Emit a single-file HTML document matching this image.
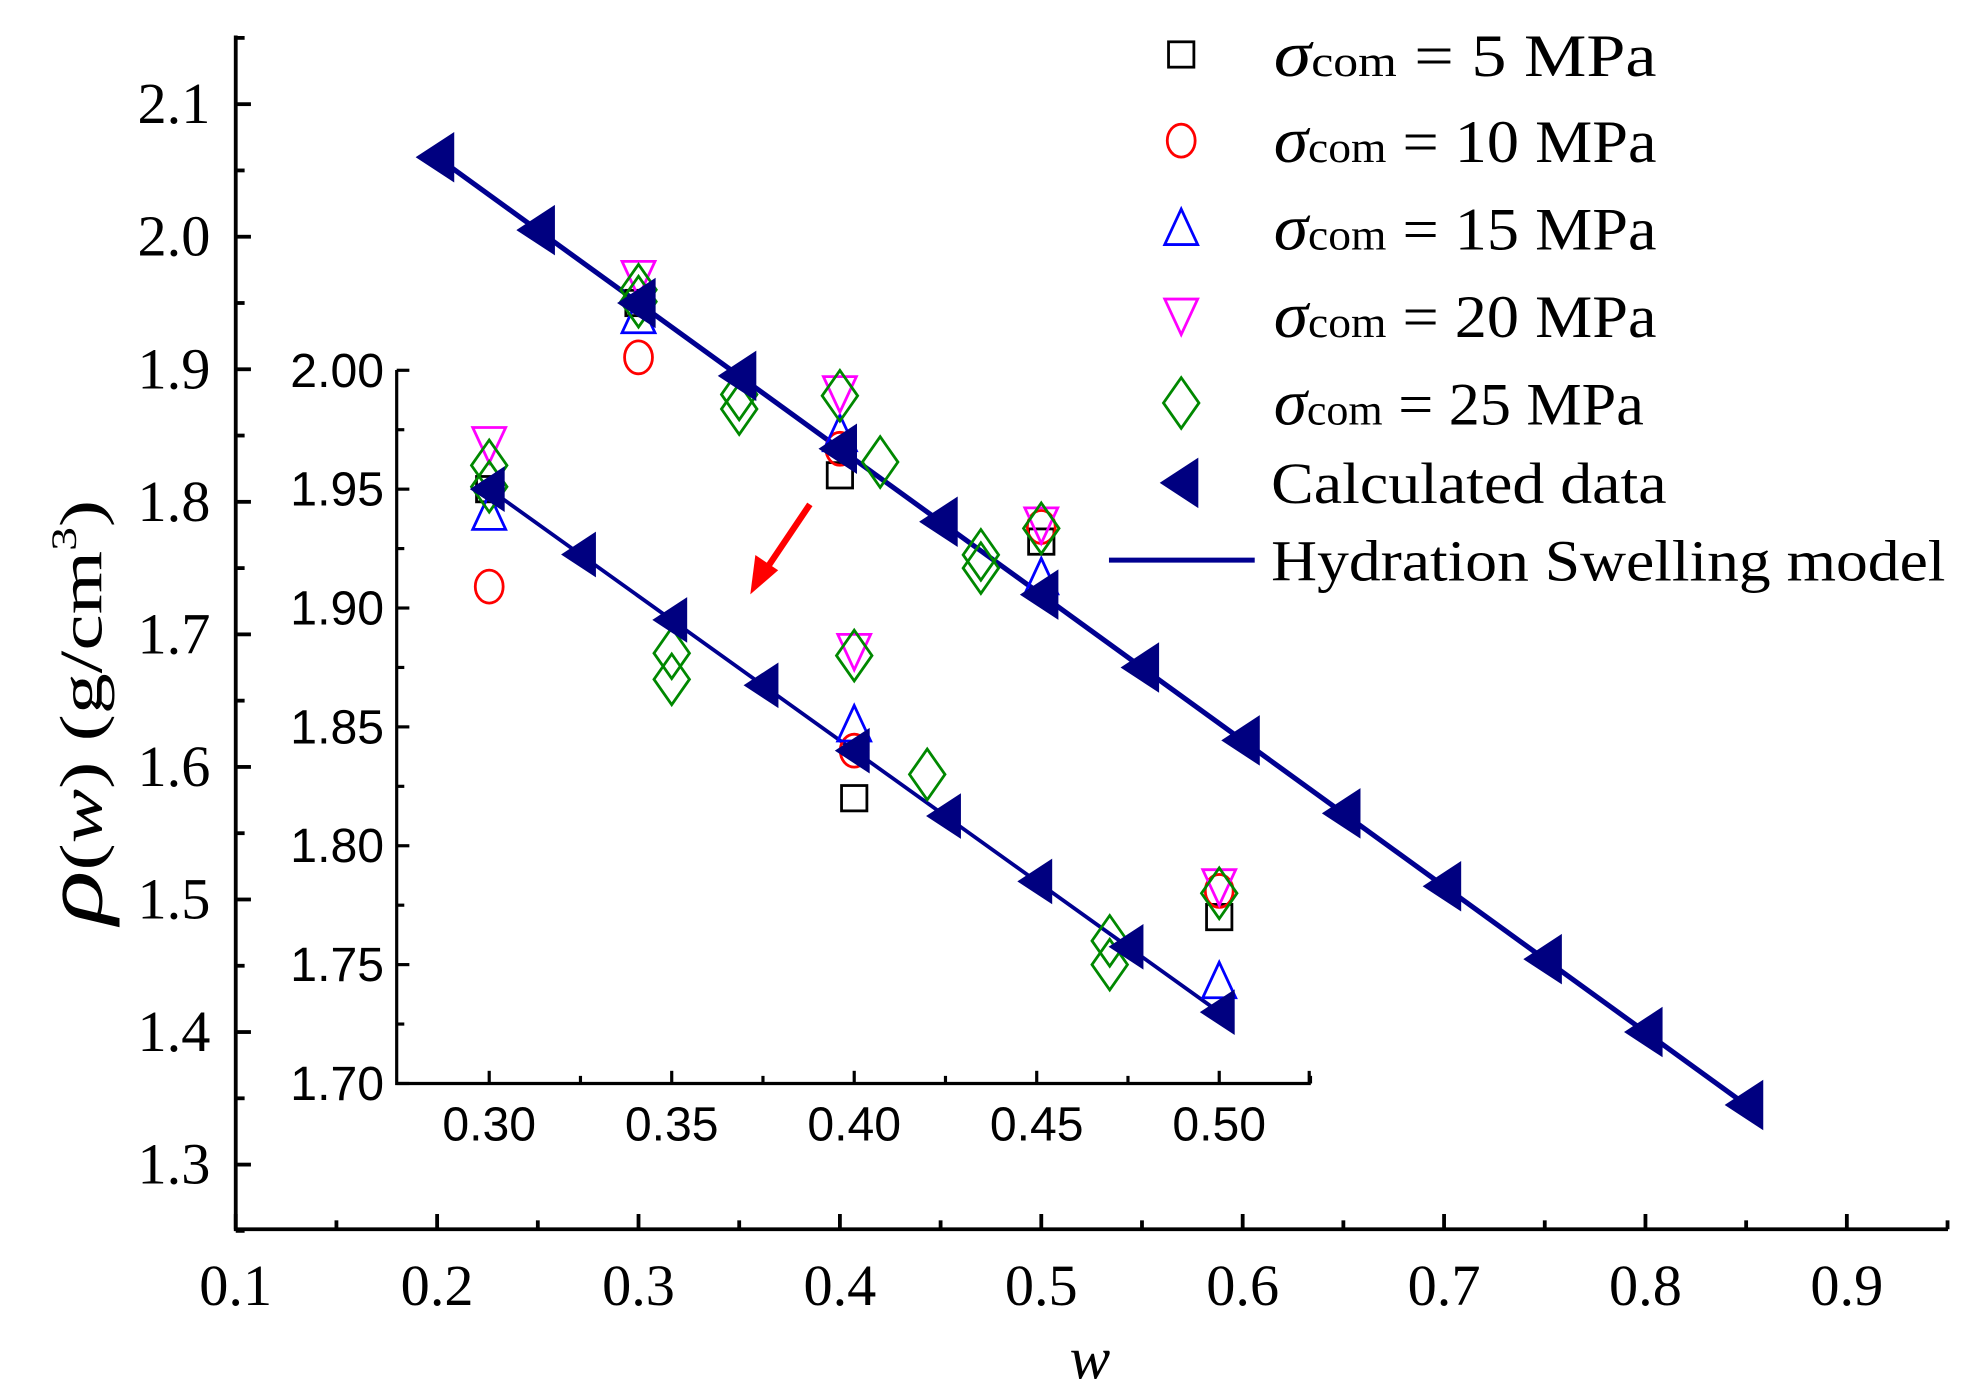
<!DOCTYPE html>
<html><head><meta charset="utf-8"><style>
html,body{margin:0;padding:0;background:#fff;}
svg{display:block;}
text{font-family:"Liberation Serif",serif;fill:#000;}
.ins{font-family:"Liberation Sans",sans-serif;}
</style></head><body>
<svg id="chart" width="1986" height="1397" viewBox="0 0 1567 1102.4" preserveAspectRatio="none" xmlns="http://www.w3.org/2000/svg">
<g id="main"></g>
<g id="inset"></g>
<g id="legend"></g>
</svg>
<script>
// data
const calcMainW = [0.2,0.25,0.3,0.35,0.4,0.45,0.5,0.55,0.6,0.65,0.7,0.75,0.8,0.85];
const calcMainRho = [2.06,2.005,1.95,1.895,1.84,1.785,1.73,1.675,1.62,1.565,1.51,1.455,1.40,1.345];
const calcInsetW = [0.3,0.325,0.35,0.375,0.4,0.425,0.45,0.475,0.5];
const calcInsetRho = [1.95,1.9225,1.895,1.8675,1.84,1.8125,1.785,1.7575,1.73];
const s5W = [0.3,0.4,0.5];
const s5Rho = [1.95,1.82,1.77];
const s10W = [0.3,0.4,0.5];
const s10Rho = [1.909,1.84,1.781];
const s15W = [0.3,0.4,0.5];
const s15Rho = [1.94,1.851,1.743];
const s20W = [0.3,0.4,0.5];
const s20Rho = [1.969,1.882,1.783];
const s25W = [0.3,0.3,0.35,0.35,0.4,0.42,0.47,0.47,0.5];
const s25Rho = [1.96,1.951,1.881,1.87,1.88,1.83,1.76,1.75,1.78];
const mainXTicks = [0.1,0.2,0.3,0.4,0.5,0.6,0.7,0.8,0.9];
const mainYTicks = [1.3,1.4,1.5,1.6,1.7,1.8,1.9,2.0,2.1];
const insetXTicks = [0.30,0.35,0.40,0.45,0.50];
const insetYTicks = [1.70,1.75,1.80,1.85,1.90,1.95,2.00];
const legendLabels = ["5 MPa","10 MPa","15 MPa","20 MPa","25 MPa"];

const NS="http://www.w3.org/2000/svg";
function mk(tag,parent,attrs){const e=document.createElementNS(NS,tag);for(const k in attrs)e.setAttribute(k,attrs[k]);parent.appendChild(e);return e;}
const mx=w=>186+(w-0.1)/0.1*158.9;
const my=r=>919-(r-1.3)/0.1*104.6;
const ix=w=>386+(w-0.3)/0.05*144;
const iy=r=>855-(r-1.7)/0.05*93.8;

function marker(g,type,x,y,sc){
  let e;const s=sc||1;
  if(type==='sq'){e=mk('rect',g,{x:x-10*s,y:y-10*s,width:20*s,height:20*s,fill:'none',stroke:'#000','stroke-width':2.2});}
  else if(type==='ci'){e=mk('ellipse',g,{cx:x,cy:y,rx:11*s,ry:13*s,fill:'none',stroke:'#f00','stroke-width':2.2});}
  else if(type==='up'){e=mk('polygon',g,{points:`${x},${y-15*s} ${x-13*s},${y+13*s} ${x+13*s},${y+13*s}`,fill:'none',stroke:'#00f','stroke-width':2.2});}
  else if(type==='dn'){e=mk('polygon',g,{points:`${x},${y+15*s} ${x-13*s},${y-13*s} ${x+13*s},${y-13*s}`,fill:'none',stroke:'#f0f','stroke-width':2.2});}
  else if(type==='di'){e=mk('polygon',g,{points:`${x},${y-20*s} ${x+14*s},${y} ${x},${y+20*s} ${x-14*s},${y}`,fill:'none',stroke:'#080','stroke-width':2.2});}
  else if(type==='lt'){e=mk('polygon',g,{points:`${x-16*s},${y} ${x+13*s},${y-19*s} ${x+13*s},${y+19*s}`,fill:'#000080',stroke:'#000080','stroke-width':1});}
  return e;
}
const series=[['sq',s5W,s5Rho,'series-5mpa'],['ci',s10W,s10Rho,'series-10mpa'],['up',s15W,s15Rho,'series-15mpa'],['dn',s20W,s20Rho,'series-20mpa'],['di',s25W,s25Rho,'series-25mpa']];

function drawPlot(g,X,Y,cw,cr,prefix){
  const ln=mk('line',g,{x1:X(cw[0]),y1:Y(cr[0]),x2:X(cw[cw.length-1]),y2:Y(cr[cr.length-1]),stroke:'#000090','stroke-width':prefix==='main'?4:3});
  
  
  series.forEach(([t,ws,rs,name])=>{
    const sg=mk('g',g,{});
    
    
    ws.forEach((w,i)=>{const m=marker(sg,t,X(w),Y(rs[i]));
      
      });
  });
  const cg=mk('g',g,{});
  
  
  cw.forEach((w,i)=>{const m=marker(cg,'lt',X(w),Y(cr[i]),prefix==='main'?1:0.9);
    
    });
}

const main=document.getElementById('main');
const ax=mk('path',main,{d:'M186,28 L186,970 L1537,970',fill:'none',stroke:'#000','stroke-width':3});


mainXTicks.forEach((v,i)=>{
  const x=mx(v);
  mk('line',main,{x1:x,y1:970,x2:x,y2:958,stroke:'#000','stroke-width':3});
  if(i<mainXTicks.length-1)mk('line',main,{x1:mx(v+0.05),y1:970,x2:mx(v+0.05),y2:963,stroke:'#000','stroke-width':3});
  const t=mk('text',main,{x:x,y:1030,'font-size':46,'text-anchor':'middle'});t.textContent=v.toFixed(1);
  
  
});
mk('line',main,{x1:mx(0.95),y1:970,x2:mx(0.95),y2:963,stroke:'#000','stroke-width':3});
mainYTicks.forEach((v,i)=>{
  const y=my(v);
  mk('line',main,{x1:186,y1:y,x2:198,y2:y,stroke:'#000','stroke-width':3});
  mk('line',main,{x1:186,y1:my(v+0.05),x2:193,y2:my(v+0.05),stroke:'#000','stroke-width':3});
  const t=mk('text',main,{x:166,y:y+15,'font-size':46,'text-anchor':'end'});t.textContent=v.toFixed(1);
  
  
});
mk('line',main,{x1:186,y1:my(1.25),x2:193,y2:my(1.25),stroke:'#000','stroke-width':3});
const xt=mk('text',main,{x:860,y:1088,'font-size':48,'font-style':'italic','text-anchor':'middle'});xt.textContent='w';


const yt=mk('text',main,{transform:'translate(80,562) rotate(-90)','font-size':48,'text-anchor':'middle',textLength:335,lengthAdjust:'spacingAndGlyphs'});
yt.innerHTML='<tspan font-style="italic" font-size="66">ρ</tspan>(<tspan font-style="italic">w</tspan>)  (g/cm<tspan font-size="28" dy="-20">3</tspan><tspan dy="20">)</tspan>';


drawPlot(main,mx,my,calcMainW,calcMainRho,'main');

const inset=document.getElementById('inset');
const iax=mk('path',inset,{d:'M313,292 L313,855 L1033,855 L1033,845',fill:'none',stroke:'#000','stroke-width':2.5});


insetXTicks.forEach(v=>{
  const x=ix(v);
  mk('line',inset,{x1:x,y1:855,x2:x,y2:845,stroke:'#000','stroke-width':2.5});
  mk('line',inset,{x1:ix(v+0.025),y1:855,x2:ix(v+0.025),y2:849,stroke:'#000','stroke-width':2.5});
  const t=mk('text',inset,{x:x,y:900,'font-size':38,'text-anchor':'middle','class':'ins'});t.textContent=v.toFixed(2);
  
  
});
insetYTicks.forEach(v=>{
  const y=iy(v);
  mk('line',inset,{x1:313,y1:y,x2:323,y2:y,stroke:'#000','stroke-width':2.5});
  if(v<2)mk('line',inset,{x1:313,y1:iy(v+0.025),x2:319,y2:iy(v+0.025),stroke:'#000','stroke-width':2.5});
  const t=mk('text',inset,{x:303,y:y+13,'font-size':38,'text-anchor':'end','class':'ins'});t.textContent=v.toFixed(2);
  
  
});
drawPlot(inset,ix,iy,calcInsetW,calcInsetRho,'inset');
const ar=mk('g',inset,{});


mk('line',ar,{x1:639,y1:398,x2:604,y2:450,stroke:'#f00','stroke-width':5});
mk('polygon',ar,{points:'592,469 596,438 614,450',fill:'#f00'});

const lg=document.getElementById('legend');
const ly=[43,111,180,249,318];
const lw=[302,302,302,302,292];
['sq','ci','up','dn','di'].forEach((t,i)=>{
  const e=mk('g',lg,{});
  
  
  marker(e,t,932,ly[i]);
  const tx=mk('text',e,{x:1005,y:ly[i]+17,'font-size':48,textLength:lw[i],lengthAdjust:'spacingAndGlyphs'});
  tx.innerHTML='<tspan font-style="italic" font-size="52">σ</tspan><tspan font-size="34">com</tspan> = '+(i===0?'  ':'')+legendLabels[i];
});
const e6=mk('g',lg,{});


marker(e6,'lt',932,381);
const t6=mk('text',e6,{x:1003,y:397,'font-size':46,textLength:312,lengthAdjust:'spacingAndGlyphs'});t6.textContent='Calculated data';
const e7=mk('g',lg,{});


mk('line',e7,{x1:875,y1:442,x2:990,y2:442,stroke:'#000090','stroke-width':4});
const t7=mk('text',e7,{x:1003,y:458,'font-size':46,textLength:532,lengthAdjust:'spacingAndGlyphs'});t7.textContent='Hydration Swelling model';
</script>
</body></html>
